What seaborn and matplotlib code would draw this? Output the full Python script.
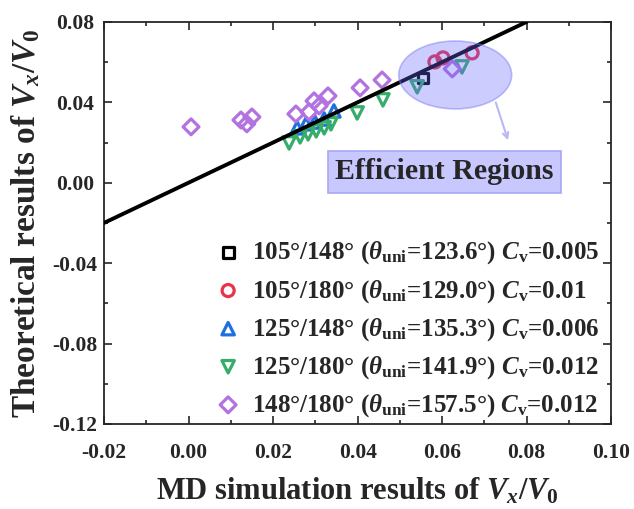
import numpy as np
import pandas as pd
import seaborn as sns
import matplotlib.pyplot as plt
from matplotlib.patches import Ellipse
from matplotlib.ticker import MultipleLocator

# ------------------------------------------------
# Data (MD simulation vs theoretical Vx/V0)

sq_x = [0.0555]
sq_y = [0.0521]

circ_x = [0.0583, 0.0602, 0.0671]
circ_y = [0.0601, 0.0621, 0.0646]

up_x = [0.0257, 0.0278, 0.0299, 0.0321, 0.0344]
up_y = [0.0273, 0.0293, 0.0302, 0.0317, 0.0357]

down_x = [0.0238, 0.0264, 0.0283, 0.0302, 0.0321, 0.0337, 0.0399, 0.0460, 0.0541, 0.0647]
down_y = [0.0198, 0.0228, 0.0243, 0.0258, 0.0273, 0.0293, 0.0347, 0.0412, 0.0477, 0.0576]

dia_x = [0.0006, 0.0124, 0.0138, 0.0150, 0.0254, 0.0285, 0.0297, 0.0309, 0.0330, 0.0406, 0.0458, 0.0624]
dia_y = [0.0278, 0.0312, 0.0293, 0.0327, 0.0342, 0.0352, 0.0407, 0.0382, 0.0432, 0.0472, 0.0511, 0.0566]

fit_x = [-0.02, 0.08]
fit_y = [-0.02, 0.08]

labels = [
    r"105°/148° ($\theta_{\rm uni}$=123.6°) $C_{\rm v}$=0.005",
    r"105°/180° ($\theta_{\rm uni}$=129.0°) $C_{\rm v}$=0.01",
    r"125°/148° ($\theta_{\rm uni}$=135.3°) $C_{\rm v}$=0.006",
    r"125°/180° ($\theta_{\rm uni}$=141.9°) $C_{\rm v}$=0.012",
    r"148°/180° ($\theta_{\rm uni}$=157.5°) $C_{\rm v}$=0.012",
]

# ------------------------------------------------
# Style

sns.set_style("ticks")
plt.rcParams['font.family'] = ['Liberation Serif', 'DejaVu Serif']
plt.rcParams['font.weight'] = 'bold'
plt.rcParams['mathtext.fontset'] = 'custom'
plt.rcParams['mathtext.rm'] = 'Liberation Serif:bold'
plt.rcParams['mathtext.it'] = 'Liberation Serif:bold:italic'
plt.rcParams['mathtext.bf'] = 'Liberation Serif:bold'

fig = plt.figure(figsize=(6.34, 5.09), dpi=100)
ax = fig.add_axes([0.164, 0.167, 0.800, 0.790])

series = [
    (sq_x, sq_y, 's', 'black', 60),
    (circ_x, circ_y, 'o', '#e8334a', 75),
    (up_x, up_y, '^', '#1f6fe0', 80),
    (down_x, down_y, 'v', '#37ad6b', 80),
    (dia_x, dia_y, 'D', '#b272e0', 65),
]

for (xs, ys, mk, col, size), lab in zip(series, labels):
    sns.scatterplot(x=xs, y=ys, marker=mk, s=size, facecolor='none',
                    edgecolor=col, linewidth=2.3, label=lab, ax=ax, zorder=3)

sns.lineplot(x=fit_x, y=fit_y, color='black', linewidth=2.8, ax=ax, zorder=4)

# Efficient region highlight
ell = Ellipse((0.0631, 0.0536), 0.0267, 0.0338, facecolor=(0.4, 0.4, 1.0, 0.33),
              edgecolor=(0.5, 0.5, 0.97, 0.5), linewidth=1.2, zorder=5)
ax.add_patch(ell)
ax.annotate('', xy=(0.0758, 0.0198), xytext=(0.0725, 0.0412),
            arrowprops=dict(arrowstyle='->', color='#b8b8f6', lw=1.5), zorder=5)
ax.text(0.0605, 0.0054, 'Efficient Regions', fontsize=21.5, fontweight='bold',
        ha='center', va='center', zorder=6,
        bbox=dict(boxstyle='square,pad=0.25', facecolor='#c8c8ff', edgecolor='#a8a8f4', lw=1.2))

# Axes
ax.set_xlim(-0.02, 0.10)
ax.set_ylim(-0.12, 0.08)
ax.xaxis.set_major_locator(MultipleLocator(0.02))
ax.xaxis.set_minor_locator(MultipleLocator(0.01))
ax.yaxis.set_major_locator(MultipleLocator(0.04))
ax.yaxis.set_minor_locator(MultipleLocator(0.02))
ax.xaxis.set_major_formatter(plt.FormatStrFormatter('%.2f'))
ax.yaxis.set_major_formatter(plt.FormatStrFormatter('%.2f'))
ax.tick_params(which='both', direction='in', top=True, right=True, width=1.2)
ax.tick_params(which='major', length=6, labelsize=15.5)
ax.tick_params(axis='x', which='major', pad=14)
ax.tick_params(axis='y', which='major', pad=21)
ax.tick_params(which='minor', length=3)
for sp in ax.spines.values():
    sp.set_linewidth(1.3)
for t in ax.get_xticklabels() + ax.get_yticklabels():
    t.set_fontweight('bold')
for t in ax.get_yticklabels():
    t.set_horizontalalignment('center')

ax.set_xlabel(r"MD simulation results of $V_x/V_0$", fontsize=22, fontweight='bold', labelpad=9)
ax.set_ylabel(r"Theoretical results of $V_x/V_0$", fontsize=24, fontweight='bold', labelpad=7)

ax.legend(loc='lower right', bbox_to_anchor=(0.996, -0.012), frameon=False,
          handletextpad=0.35, labelspacing=0.45, handlelength=1.2, borderaxespad=0,
          prop={'weight': 'bold', 'size': 18})

fig.savefig('out.png', dpi=100)
